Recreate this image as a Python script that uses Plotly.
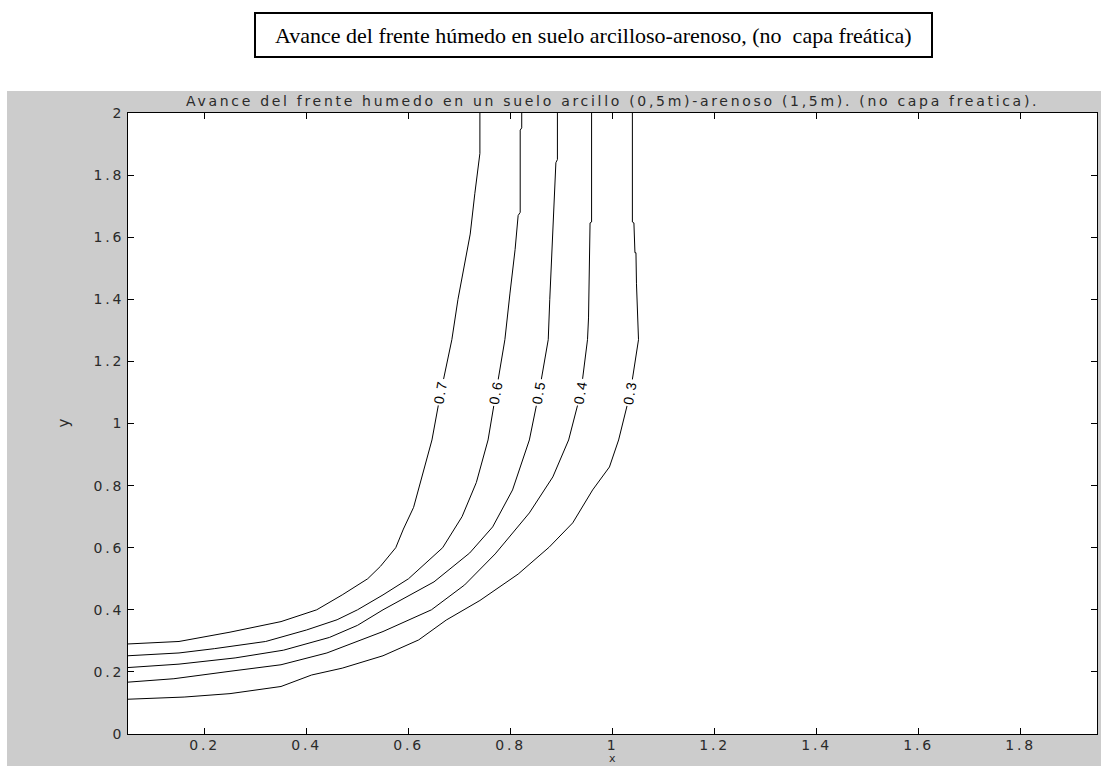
import numpy as np
import plotly.graph_objects as go

# ---------------- data ----------------
levels = [0.7, 0.6, 0.5, 0.4, 0.3]
level_labels = ["0.7", "0.6", "0.5", "0.4", "0.3"]

c07_x = [0.05, 0.15, 0.25, 0.35, 0.42, 0.47, 0.52, 0.545, 0.575, 0.59, 0.61, 0.628, 0.646, 0.662, 0.685, 0.697, 0.711, 0.721, 0.730, 0.740, 0.740]
c07_y = [0.29, 0.298, 0.328, 0.362, 0.40, 0.448, 0.50, 0.54, 0.60, 0.66, 0.73, 0.84, 0.947, 1.09, 1.27, 1.40, 1.52, 1.61, 1.74, 1.87, 2.0]

c06_x = [0.05, 0.15, 0.22, 0.32, 0.40, 0.46, 0.50, 0.55, 0.60, 0.667, 0.705, 0.733, 0.756, 0.772, 0.789, 0.799, 0.809, 0.815, 0.819, 0.819, 0.822, 0.822]
c06_y = [0.252, 0.261, 0.275, 0.298, 0.335, 0.368, 0.40, 0.448, 0.50, 0.60, 0.70, 0.81, 0.947, 1.10, 1.27, 1.42, 1.56, 1.67, 1.68, 1.945, 1.952, 2.0]

c05_x = [0.05, 0.15, 0.26, 0.355, 0.445, 0.50, 0.55, 0.65, 0.72, 0.765, 0.804, 0.837, 0.856, 0.874, 0.877, 0.884, 0.889, 0.892, 0.892]
c05_y = [0.214, 0.225, 0.245, 0.27, 0.311, 0.35, 0.40, 0.49, 0.583, 0.667, 0.786, 0.947, 1.10, 1.27, 1.40, 1.64, 1.84, 1.85, 2.0]

c04_x = [0.05, 0.14, 0.25, 0.35, 0.44, 0.55, 0.645, 0.71, 0.77, 0.837, 0.883, 0.914, 0.938, 0.951, 0.953, 0.956, 0.959, 0.959]
c04_y = [0.167, 0.178, 0.202, 0.223, 0.261, 0.33, 0.40, 0.48, 0.58, 0.712, 0.828, 0.947, 1.10, 1.27, 1.34, 1.646, 1.649, 2.0]

c03_x = [0.05, 0.16, 0.25, 0.35, 0.41, 0.47, 0.55, 0.62, 0.674, 0.74, 0.815, 0.876, 0.922, 0.961, 0.994, 1.012, 1.035, 1.051, 1.047, 1.046, 1.044, 1.042, 1.039, 1.039]
c03_y = [0.112, 0.119, 0.13, 0.153, 0.19, 0.212, 0.252, 0.303, 0.367, 0.43, 0.515, 0.602, 0.68, 0.786, 0.86, 0.947, 1.10, 1.27, 1.45, 1.55, 1.55, 1.646, 1.649, 2.0]

label_y = 1.10

x_tickvals = [0.2, 0.4, 0.6, 0.8, 1.0, 1.2, 1.4, 1.6, 1.8]
x_ticktext = ["0.2", "0.4", "0.6", "0.8", "1", "1.2", "1.4", "1.6", "1.8"]
y_tickvals = [0, 0.2, 0.4, 0.6, 0.8, 1.0, 1.2, 1.4, 1.6, 1.8, 2.0]
y_ticktext = ["0", "0.2", "0.4", "0.6", "0.8", "1", "1.2", "1.4", "1.6", "1.8", "2"]

box_text = "Avance del frente húmedo en suelo arcilloso-arenoso, (no  capa freática)"
plot_title = "Avance del frente humedo en un suelo arcillo (0,5m)-arenoso (1,5m). (no capa freatica)."

curves = [(c07_x, c07_y), (c06_x, c06_y), (c05_x, c05_y), (c04_x, c04_y), (c03_x, c03_y)]

# ---------------- layout geometry (pixels) ----------------
W, H = 1101, 766
PL, PR, PT, PB = 128, 1097, 113, 734   # plot area edges


def pxx(px):
    return (px - PL) / (PR - PL)


def pxy(py):
    return (PB - py) / (PB - PT)


def spaced(s, sp=2.8):
    return '<span style="letter-spacing:%.1fpx">%s</span>' % (sp, s)


TICKFONT = dict(family="DejaVu Sans", size=14, color="#2a2a2a")

fig = go.Figure()

for (cx, cy) in curves:
    fig.add_trace(go.Scatter(x=cx, y=cy, mode="lines",
                             line=dict(color="black", width=1),
                             hoverinfo="skip", showlegend=False))

annotations = []
for (cx, cy), lab in zip(curves, level_labels):
    ys = np.array(cy)
    xs = np.array(cx)
    idx = np.argsort(ys)
    lx = float(np.interp(label_y, ys[idx], xs[idx]))
    annotations.append(dict(x=lx, y=label_y, xref="x", yref="y", text=spaced(lab, 1.5),
                            showarrow=False, textangle=-80,
                            font=dict(family="Liberation Sans Narrow, Liberation Sans", size=14, color="black"),
                            bgcolor="white", borderpad=1))

annotations.append(dict(x=0.5, y=pxy(101), xref="paper", yref="paper", text=spaced(plot_title, 2.7),
                        showarrow=False, xanchor="center", yanchor="middle",
                        font=TICKFONT))
annotations.append(dict(x=0.5, y=pxy(766), xref="paper", yref="paper", text="x",
                        showarrow=False, xanchor="center", yanchor="bottom", borderpad=0,
                        font=dict(family="DejaVu Sans", size=11, color="#2a2a2a")))
annotations.append(dict(x=pxx(63), y=0.5, xref="paper", yref="paper", text="y",
                        showarrow=False, xanchor="center", yanchor="middle", textangle=-90,
                        font=dict(family="DejaVu Sans", size=15, color="#2a2a2a")))
annotations.append(dict(x=pxx((255 + 932) / 2), y=pxy(35), xref="paper", yref="paper", text=box_text,
                        showarrow=False, xanchor="center", yanchor="middle",
                        font=dict(family="Liberation Serif", size=22, color="black")))

shapes = [
    dict(type="rect", xref="paper", yref="paper", x0=pxx(7), x1=pxx(1105), y0=pxy(770), y1=pxy(91),
         fillcolor="#cccccc", line=dict(width=0), layer="below"),
    dict(type="rect", xref="paper", yref="paper", x0=0, x1=1, y0=0, y1=1,
         fillcolor="white", line=dict(width=0), layer="below"),
    dict(type="rect", xref="paper", yref="paper", x0=pxx(255), x1=pxx(932), y0=pxy(57), y1=pxy(13),
         fillcolor="rgba(0,0,0,0)", line=dict(color="black", width=2)),
]

fig.update_layout(
    width=W, height=H,
    margin=dict(l=PL, r=W - PR, t=PT, b=H - PB, pad=0),
    paper_bgcolor="white", plot_bgcolor="white",
    showlegend=False,
    annotations=annotations,
    shapes=shapes,
    xaxis=dict(range=[0.05, 1.95], tickmode="array", tickvals=x_tickvals,
               ticktext=[spaced(t) for t in x_ticktext],
               ticks="inside", ticklen=6, tickcolor="black", mirror="allticks",
               showline=True, linecolor="black", linewidth=1, ticklabelstandoff=-2,
               showgrid=False, zeroline=False, tickfont=TICKFONT),
    yaxis=dict(range=[0, 2], tickmode="array", tickvals=y_tickvals,
               ticktext=[spaced(t) for t in y_ticktext],
               ticks="inside", ticklen=6, tickcolor="black", mirror="allticks",
               showline=True, linecolor="black", linewidth=1,
               showgrid=False, zeroline=False, tickfont=TICKFONT),
)

fig.write_html("out.html")
